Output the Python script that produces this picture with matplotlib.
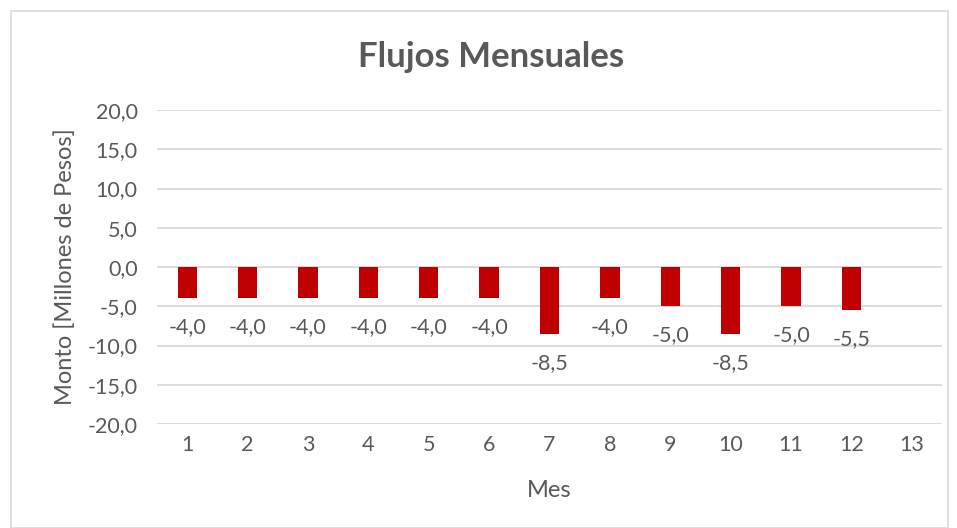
#!/usr/bin/env python
import numpy as np
import matplotlib.pyplot as plt
from matplotlib.patches import Rectangle

# Flujos mensuales (millones de pesos)
meses = ['1', '2', '3', '4', '5', '6', '7', '8', '9', '10', '11', '12', '13']
montos = [-4.0, -4.0, -4.0, -4.0, -4.0, -4.0, -8.5, -4.0, -5.0, -8.5, -5.0, -5.5, None]

GRIS = '#595959'
ROJO = '#C00000'


def fmt(v):
    return ('%0.1f' % v).replace('.', ',')


def plot_flujos():
    plt.rcParams['font.family'] = ['Lato', 'DejaVu Sans']
    fig = plt.figure(figsize=(9.57, 5.28), dpi=100)
    fig.patches.append(Rectangle((11 / 957, 0.0), 937 / 957, 1 - 11 / 528,
                                 transform=fig.transFigure, fill=False,
                                 edgecolor='#D9D9D9', linewidth=1.2))
    ax = fig.add_axes([157 / 957, 1 - 424 / 528, 785 / 957, 314 / 528])

    ind = np.arange(1, len(meses) + 1)
    vals = [v if v is not None else 0 for v in montos]
    rects = ax.bar(ind, vals, 0.32, color=ROJO, zorder=3)

    for r, v in zip(rects, montos):
        if v is None:
            continue
        ax.annotate(fmt(v), (r.get_x() + r.get_width() / 2, v),
                    xytext=(0, -21), textcoords='offset points',
                    ha='center', va='center', fontsize=15.5, color=GRIS)

    ax.set_xlim(0.5, len(meses) + 0.5)
    ax.set_ylim(-20, 20)
    ax.set_yticks(np.arange(-20, 21, 5))
    ax.set_yticklabels([fmt(t) for t in np.arange(-20, 21, 5)])
    ax.set_xticks(ind)
    ax.set_xticklabels(meses)
    ax.tick_params(axis='both', length=0, labelsize=15.5, labelcolor=GRIS)
    ax.tick_params(axis='y', pad=14)
    ax.tick_params(axis='x', pad=8)
    ax.grid(axis='y', color='#D9D9D9', linewidth=1.3, zorder=0)
    for s in ax.spines.values():
        s.set_visible(False)

    ax.set_ylabel('Monto [Millones de Pesos]', fontsize=17, color=GRIS, labelpad=8)
    ax.set_xlabel('Mes', fontsize=17, color=GRIS, labelpad=18)
    fig.text(491 / 957, 1 - 57 / 528, 'Flujos Mensuales', ha='center', va='center',
             fontsize=25, fontweight='bold', color=GRIS)

    plt.savefig('out.png', dpi=100)


if __name__ == "__main__":
    plot_flujos()
